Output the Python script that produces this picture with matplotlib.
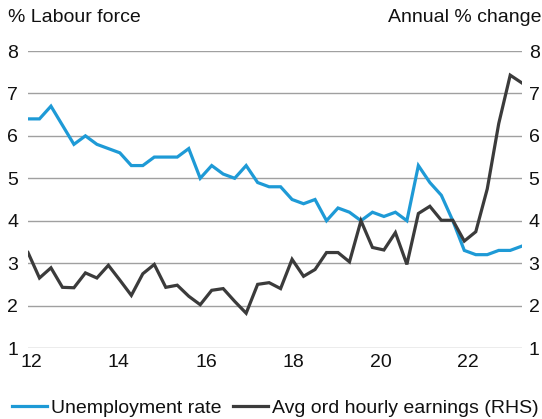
import numpy as np
import matplotlib
matplotlib.use("Agg")
import matplotlib.pyplot as plt

plt.rcParams['font.family'] = ['Liberation Sans', 'DejaVu Sans']

# quarterly, Mar 2012 to Dec 2022
unemployment = [6.4, 6.4, 6.7, 6.25, 5.8, 6.0, 5.8, 5.7, 5.6, 5.3, 5.3, 5.5,
                5.5, 5.5, 5.7, 5.0, 5.3, 5.1, 5.0, 5.3, 4.9, 4.8, 4.8, 4.5,
                4.4, 4.5, 4.0, 4.3, 4.2, 4.0, 4.2, 4.1, 4.2, 4.0, 5.3, 4.9,
                4.6, 4.0, 3.3, 3.2, 3.2, 3.3, 3.3, 3.4]
earnings = [3.25, 2.65, 2.89, 2.43, 2.42, 2.77, 2.65, 2.95, 2.6, 2.24, 2.75, 2.97,
            2.43, 2.48, 2.22, 2.02, 2.36, 2.40, 2.10, 1.82, 2.50, 2.54, 2.40, 3.09,
            2.69, 2.85, 3.25, 3.25, 3.03, 4.0, 3.37, 3.31, 3.72, 2.97, 4.17, 4.34,
            4.01, 4.01, 3.52, 3.74, 4.75, 6.29, 7.43, 7.25]
year_labels = ['12', '14', '16', '18', '20', '22']
y_ticks = [1, 2, 3, 4, 5, 6, 7, 8]

x = np.arange(len(unemployment))
blue = '#1e9ad6'
dark = '#3b3b3b'
grid = '#a0a0a0'
fs = 14

fig = plt.figure(figsize=(5.42, 4.19), dpi=100)
ax = fig.add_axes([28/542, 1 - 348/419, (521.7 - 28)/542, (348 - 51)/419])
ax2 = ax.twinx()

for y in y_ticks:
    ax.axhline(y, color=grid, lw=1.0, zorder=0)

l1, = ax.plot(x, unemployment, color=blue, lw=2.3, label='Unemployment rate',
              solid_joinstyle='miter', zorder=3)
l2, = ax2.plot(x, earnings, color=dark, lw=2.3, label='Avg ord hourly earnings (RHS)',
               solid_joinstyle='miter', zorder=3)

for a in (ax, ax2):
    a.set_xlim(0, len(x) - 1)
    a.set_ylim(1, 8)
    a.set_yticks(y_ticks)
    for s in a.spines.values():
        s.set_visible(False)
    a.tick_params(length=0, labelsize=fs, colors='#111111')
ax.tick_params(axis='y', pad=7)
ax2.tick_params(axis='y', pad=5)

tick_pos = [0.3 + 7.61 * i for i in range(len(year_labels))]
ax.set_xticks(tick_pos)
ax.set_xticklabels(year_labels)
ax.tick_params(axis='x', pad=4)

fig.text(8/542, 1 - 18/419, '% Labour force', fontsize=fs, va='center', ha='left',
         color='#111111')
fig.text(541/542, 1 - 18/419, 'Annual % change', fontsize=fs, va='center', ha='right',
         color='#111111')

fig.legend(handles=[l1, l2], loc='center', bbox_to_anchor=(275/542, 1 - 408/419),
           ncol=2, frameon=False, fontsize=fs, handlelength=1.8, handletextpad=0.2,
           columnspacing=0.6, borderaxespad=0, labelcolor='#111111')

fig.savefig('out.png', dpi=100)
